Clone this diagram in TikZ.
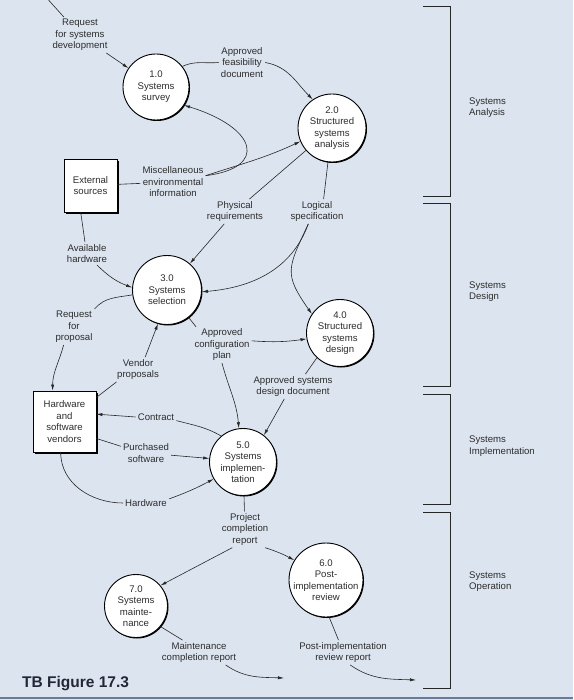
\documentclass[tikz,border=0pt]{standalone}
\usepackage{fontspec}
\setmainfont{Liberation Sans}
\usetikzlibrary{arrows.meta,shadows}
\definecolor{bg}{RGB}{220,228,239}
\definecolor{txt}{RGB}{45,45,45}
\definecolor{rulecol}{RGB}{105,125,155}
\definecolor{figcol}{RGB}{35,38,55}
\newcommand{\dfdfont}{\fontsize{9.6}{11.5}\selectfont}
\begin{document}
\begin{tikzpicture}[x=1pt,y=1pt,
  proc/.style={circle, draw=black, fill=white, line width=0.9pt, minimum size=#1pt, inner sep=0pt,
    drop shadow={fill=black, opacity=1, shadow xshift=1pt, shadow yshift=-1pt}},
  ptext/.style={text=txt, align=center, font=\dfdfont, inner sep=0pt},
  store/.style={rectangle, draw=black, fill=white, line width=0.8pt, text=txt, align=center, font=\dfdfont,
    drop shadow={fill=black, opacity=1, shadow xshift=2pt, shadow yshift=-2pt}},
  lbl/.style={text=txt, align=center, font=\dfdfont, inner sep=2pt},
  phase/.style={text=txt, align=left, font=\dfdfont, inner sep=0pt, anchor=west},
  flow/.style={draw=black!85, line width=0.6pt},
  arr/.style={flow, -{Latex[length=6pt,width=3.2pt]}},
  brack/.style={draw=black!85, line width=0.8pt}]
\fill[bg] (0,0) rectangle (573,-700);
\useasboundingbox (0,0) rectangle (573,-700);
\draw[rulecol, line width=1.2pt] (0,-698) -- (573,-698);

% processes
\node[proc=66] (c1) at (156,-87) {};
\node[ptext] (c1t) at (c1) {1.0\\Systems\\survey};
\node[proc=68] (c2) at (332,-128) {};
\node[ptext] (c2t) at (c2) {2.0\\Structured\\systems\\analysis};
\node[proc=69] (c3) at (167,-290) {};
\node[ptext] (c3t) at (c3) {3.0\\Systems\\selection};
\node[proc=67] (c4) at (340,-333) {};
\node[ptext] (c4t) at (c4) {4.0\\Structured\\systems\\design};
\node[proc=67] (c5) at (243,-462) {};
\node[ptext] (c5t) at (c5) {5.0\\Systems\\implemen-\\tation};
\node[proc=74] (c6) at (326,-580) {};
\node[ptext] (c6t) at (c6) {6.0\\Post-\\implementation\\review};
\node[proc=63] (c7) at (136,-606) {};
\node[ptext] (c7t) at (c7) {7.0\\Systems\\mainte-\\nance};

% external entities
\node[store, minimum width=53pt, minimum height=53pt] (ext) at (90.5,-185.5) {External\\sources};
\node[store, minimum width=63pt, minimum height=61pt] (hwv) at (64.5,-421.5) {Hardware\\and\\software\\vendors};

% flow labels
\node[lbl] (reqsys) at (80,-35) {Request\\for systems\\development};
\node[lbl] (feas) at (242,-62.5) {Approved\\feasibility\\document};
\node[lbl] (misc) at (173,-182) {Miscellaneous\\environmental\\information};
\node[lbl] (phys) at (235,-211.5) {Physical\\requirements};
\node[lbl] (logic) at (317,-211.5) {Logical\\specification};
\node[lbl] (avail) at (87,-253.5) {Available\\hardware};
\node[lbl] (reqprop) at (74,-327) {Request\\for\\proposal};
\node[lbl] (vendor) at (138,-369.5) {Vendor\\proposals};
\node[lbl] (config) at (222,-345) {Approved\\configuration\\plan};
\node[lbl] (asdd) at (293,-386.5) {Approved systems\\design document};
\node[lbl] (contract) at (156,-417) {Contract};
\node[lbl] (purch) at (146,-453) {Purchased\\software};
\node[lbl] (hw) at (146,-503) {Hardware};
\node[lbl] (pcr) at (245,-529.5) {Project\\completion\\report};
\node[lbl] (mcr) at (199,-652.5) {Maintenance\\completion report};
\node[lbl] (pirr) at (343,-652.5) {Post-implementation\\review report};

\coordinate (topin) at (48.5,0);
\coordinate (mend) at (284,-678);
\coordinate (pend) at (416,-680);

% flows
\draw[flow] (topin) -- (reqsys);
\draw[arr] (reqsys) -- (c1);
\draw[flow] (c1.38) to[out=25,in=185] (feas.west);
\draw[arr] (feas.east) to[out=-10,in=135] (c2.124);
\draw[flow] (ext) -- (misc);
\draw[arr] (misc.11) to[out=18,in=205] (c2.203);
\draw[arr] (misc.11) .. controls (268,-168) and (258,-128) .. (c1.-33);
\draw[flow] (c2) -- (phys);
\draw[arr] (phys) -- (c3);
\draw[flow] (c2) -- (logic.62);
\draw[arr] (logic.235) to[out=-110,in=5] (c3.-3);
\draw[arr] (logic.235) to[out=-115,in=125,looseness=1.4] (c4.146);
\draw[flow] (ext.-110) -- (avail.100);
\draw[arr] (avail) to[bend right=12] (c3.176);
\draw[flow] (c3.188) to[out=190,in=50] (reqprop.north east);
\draw[arr] (reqprop.240) to[out=-105,in=90] (hwv.111);
\draw[flow] (hwv.37) -- (vendor.210);
\draw[arr] (vendor.60) -- (c3.-105);
\draw[flow] (c3) -- (config.145);
\draw[arr] (config.8) to[bend right=6] (c4.190);
\draw[arr] (config.south) to[out=-75,in=95] (c5.97);
\draw[flow] (c4.227) -- (asdd.45);
\draw[arr] (asdd.235) -- (c5.52);
\draw[flow] (c5.130) to[out=150,in=-15] (contract.-10);
\draw[arr] (contract.west) -- (hwv.13);
\draw[flow] (hwv.-28) -- (purch.165);
\draw[arr] (purch.-5) -- (c5.174);
\draw[flow] (hwv.-97) to[out=-90,in=180] (hw.west);
\draw[arr] (hw.10) to[bend right=4] (c5.210);
\draw[flow] (c5) -- (pcr);
\draw[arr] (pcr.235) -- (c7.40);
\draw[arr] (pcr.-42) to[bend left=5] (c6.148);
\draw[flow] (c7.-40) -- (mcr.143);
\draw[arr] (mcr.-25) to[out=-35,in=178] (mend);
\draw[flow] (c6.-85) -- (pirr.110);
\draw[arr] (pirr.-60) to[out=-35,in=178] (pend);

% phase brackets
\draw[brack] (423,-6) -- (450,-6) -- (450,-196) -- (423,-196);
\draw[brack] (423,-203) -- (450,-203) -- (450,-386) -- (423,-386);
\draw[brack] (423,-394) -- (450,-394) -- (450,-504) -- (423,-504);
\draw[brack] (423,-512) -- (450,-512) -- (450,-688) -- (423,-688);
\node[phase] (pa) at (469,-107.4) {Systems\\Analysis};
\node[phase] (pd) at (469,-291.5) {Systems\\Design};
\node[phase] (pim) at (469,-446) {Systems\\Implementation};
\node[phase] (po) at (469,-581.5) {Systems\\Operation};

\node[anchor=base west, inner sep=0pt, text=figcol, font=\bfseries\fontsize{15.5}{18}\selectfont] (title) at (22,-687) {TB Figure 17.3};
\end{tikzpicture}
\end{document}
